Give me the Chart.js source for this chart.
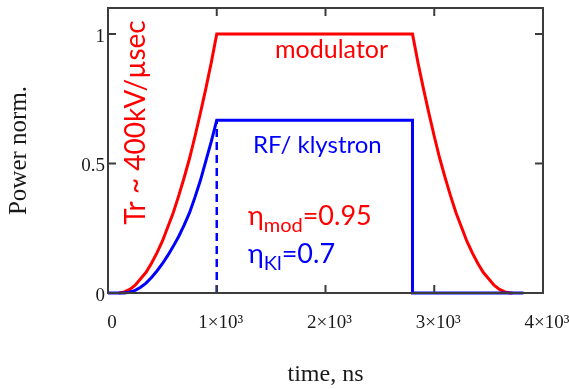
<!DOCTYPE html>
<html>
<head>
<meta charset="utf-8">
<script src="https://cdn.jsdelivr.net/npm/chart.js@4.4.1/dist/chart.umd.min.js"></script>
<style>
  html, body { margin: 0; padding: 0; background: #fff; }
</style>
</head>
<body>
<canvas id="pulseChart" width="569" height="389"></canvas>
<script>
/* modulator voltage pulse vs klystron RF pulse (normalised power) */

// modulator (red) — rise, flat top, fall
const modTime = [100, 150, 200, 250, 300, 350, 400, 450, 500, 550, 600, 650, 700, 750, 800, 850, 900, 950, 1000,
                 2800, 2850, 2900, 2950, 3000, 3050, 3100, 3150, 3200, 3250, 3300, 3350, 3400, 3450, 3500, 3550, 3600, 3650, 3700, 3720];
const modPower = [0, 0.004, 0.014, 0.03, 0.055, 0.08, 0.115, 0.155, 0.2, 0.255, 0.31, 0.375, 0.445, 0.52, 0.605, 0.695, 0.79, 0.89, 1.0,
                  1.0, 0.89, 0.79, 0.695, 0.605, 0.52, 0.445, 0.375, 0.31, 0.255, 0.2, 0.155, 0.115, 0.08, 0.055, 0.03, 0.014, 0.004, 0, 0];

// klystron RF (blue)
const klyTime = [0, 150, 200, 250, 300, 350, 400, 450, 500, 550, 600, 650, 700, 750, 800, 850, 900, 950, 1000, 2800, 2800, 3820];
const klyPower = [0, 0, 0.003, 0.01, 0.022, 0.038, 0.06, 0.085, 0.113, 0.145, 0.18, 0.218, 0.262, 0.31, 0.37, 0.435, 0.51, 0.585, 0.667, 0.667, 0, 0];

// RF gate (dashed)
const gateTime = [1000, 1000];
const gatePower = [0, 0.667];

const xTickValues = [0, 1000, 2000, 3000, 4000];
const xTickLabels = ['0', '1×10³', '2×10³', '3×10³', '4×10³'];
const yTickValues = [0, 0.5, 1];
const yTickLabels = ['0', '0.5', '1'];

const RED = '#ff0000';
const BLUE = '#0000ff';
const INK = '#1a1a1a';
const SERIF = "'Liberation Serif', 'Times New Roman', serif";
const SANS = "Lato, 'Open Sans', sans-serif";

const toPoints = (xs, ys) => xs.map((x, i) => ({ x, y: ys[i] }));

// fixed axis box sizes, no label overflow padding
const fixBox = size => s => {
  if (s.isHorizontal()) s.height = size; else s.width = size;
  s.paddingLeft = s.paddingRight = s.paddingTop = s.paddingBottom = 0;
};

// box frame + inward ticks on all four sides
const frameBox = {
  id: 'frameBox',
  afterDatasetsDraw(chart) {
    const { ctx, chartArea: a, scales: { x, y } } = chart;
    const tl = 8;
    ctx.save();
    ctx.strokeStyle = '#3c3c3c';
    ctx.lineWidth = 2;
    ctx.strokeRect(a.left, a.top, a.right - a.left, a.bottom - a.top);
    ctx.beginPath();
    xTickValues.forEach(v => {
      const px = x.getPixelForValue(v);
      ctx.moveTo(px, a.bottom); ctx.lineTo(px, a.bottom - tl);
      ctx.moveTo(px, a.top); ctx.lineTo(px, a.top + tl);
    });
    yTickValues.forEach(v => {
      const py = y.getPixelForValue(v);
      ctx.moveTo(a.left, py); ctx.lineTo(a.left + tl, py);
      ctx.moveTo(a.right, py); ctx.lineTo(a.right - tl, py);
    });
    ctx.stroke();
    ctx.restore();
  }
};

// text notes, placed in data coordinates
const notes = {
  id: 'notes',
  afterDraw(chart) {
    const { ctx, scales: { x, y } } = chart;
    const px = v => x.getPixelForValue(v);
    const py = v => y.getPixelForValue(v);
    ctx.save();
    ctx.textAlign = 'left';
    ctx.textBaseline = 'alphabetic';

    ctx.fillStyle = RED;
    ctx.font = `25px ${SANS}`;
    ctx.fillText('modulator', px(1536), py(0.907));

    ctx.fillStyle = BLUE;
    ctx.font = `24px ${SANS}`;
    ctx.fillText('RF/ klystron', px(1333), py(0.540));

    // eta lines with subscripts
    const eta = (sub, rest, color, t, v) => {
      let cx = px(t);
      const by = py(v);
      ctx.fillStyle = color;
      ctx.font = `27px ${SANS}`;
      ctx.fillText('η', cx, by);
      cx += ctx.measureText('η').width;
      ctx.font = `20px ${SANS}`;
      ctx.fillText(sub, cx, by + 7);
      cx += ctx.measureText(sub).width;
      ctx.font = `27px ${SANS}`;
      ctx.fillText(rest, cx, by);
    };
    eta('mod', '=0.95', RED, 1287, 0.262);
    eta('Kl', '=0.7', BLUE, 1287, 0.116);

    // rise-rate note, rotated
    ctx.save();
    ctx.translate(px(340), py(0.263));
    ctx.rotate(-Math.PI / 2);
    ctx.fillStyle = RED;
    ctx.font = `28px ${SANS}`;
    ctx.fillText('Tr ~ 400kV/µsec', 0, 0);
    ctx.restore();

    ctx.restore();
  }
};

new Chart(document.getElementById('pulseChart'), {
  type: 'line',
  data: {
    datasets: [
      {
        label: 'RF gate',
        data: toPoints(gateTime, gatePower),
        borderColor: BLUE,
        borderWidth: 2.5,
        borderDash: [8, 5],
        pointRadius: 0,
        order: 0,
      },
      {
        label: 'RF/ klystron',
        data: toPoints(klyTime, klyPower),
        borderColor: BLUE,
        borderWidth: 3,
        pointRadius: 0,
        tension: 0,
        clip: false,
        order: 1,
      },
      {
        label: 'modulator',
        data: toPoints(modTime, modPower),
        borderColor: RED,
        borderWidth: 3,
        pointRadius: 0,
        tension: 0,
        clip: false,
        order: 2,
      }
    ]
  },
  options: {
    responsive: false,
    animation: false,
    layout: { autoPadding: false, padding: { top: 8, right: 26, bottom: 0, left: 0 } },
    plugins: { legend: { display: false }, tooltip: { enabled: false } },
    scales: {
      x: {
        type: 'linear',
        min: 0, max: 4000,
        afterBuildTicks: axis => { axis.ticks = xTickValues.map(v => ({ value: v })); },
        afterFit: fixBox(96),
        grid: { display: false, drawTicks: false },
        border: { display: false },
        ticks: {
          callback: v => xTickLabels[xTickValues.indexOf(v)],
          autoSkip: false, maxRotation: 0,
          padding: 19, labelOffset: 4,
          color: INK, font: { family: SERIF, size: 19 }
        },
        title: {
          display: true, text: 'time, ns', color: INK,
          font: { family: SERIF, size: 24 }, padding: { top: 0, bottom: 0 }
        }
      },
      y: {
        type: 'linear',
        min: 0, max: 1.1,
        afterBuildTicks: axis => { axis.ticks = yTickValues.map(v => ({ value: v })); },
        afterFit: fixBox(108),
        grid: { display: false, drawTicks: false },
        border: { display: false },
        ticks: {
          callback: v => yTickLabels[yTickValues.indexOf(v)],
          padding: 3, labelOffset: 3,
          color: INK, font: { family: SERIF, size: 19 }
        },
        title: {
          display: true, text: 'Power norm.', color: INK,
          font: { family: SERIF, size: 25 }, padding: { top: 4, bottom: 0 }
        }
      }
    }
  },
  plugins: [frameBox, notes]
});
</script>
</body>
</html>
